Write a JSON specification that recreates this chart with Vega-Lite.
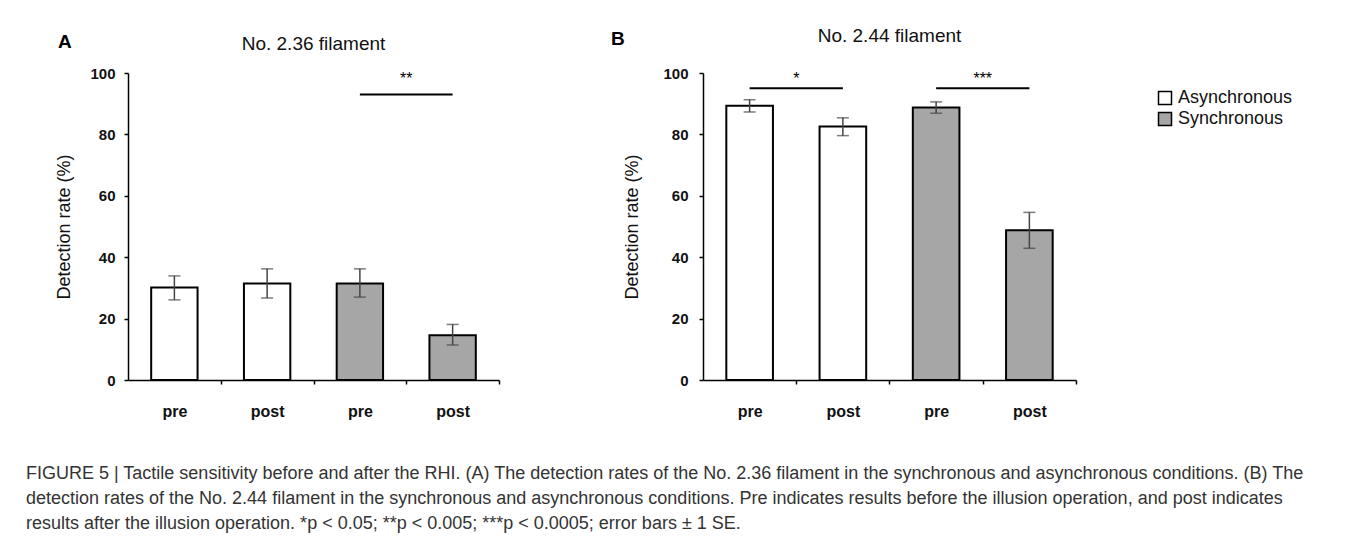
{
  "$schema": "https://vega.github.io/schema/vega-lite/v6.json",
  "padding": {"left": 25, "top": 27, "right": 0, "bottom": 0},
  "background": "white",
  "datasets": {
    "barsA": [
      {"cond": "Async pre", "group": "Asynchronous", "rate": 30.1, "lo": 26.1, "hi": 33.9},
      {"cond": "Async post", "group": "Asynchronous", "rate": 31.4, "lo": 26.7, "hi": 36.2},
      {"cond": "Sync pre", "group": "Synchronous", "rate": 31.4, "lo": 27.0, "hi": 36.2},
      {"cond": "Sync post", "group": "Synchronous", "rate": 14.6, "lo": 11.4, "hi": 18.1}
    ],
    "barsB": [
      {"cond": "Async pre", "group": "Asynchronous", "rate": 89.3, "lo": 87.3, "hi": 91.3},
      {"cond": "Async post", "group": "Asynchronous", "rate": 82.6, "lo": 79.6, "hi": 85.4},
      {"cond": "Sync pre", "group": "Synchronous", "rate": 88.8, "lo": 86.9, "hi": 90.6},
      {"cond": "Sync post", "group": "Synchronous", "rate": 48.8, "lo": 42.9, "hi": 54.6}
    ],
    "sigA": [
      {"from": "Sync pre", "to": "Sync post", "y": 93, "ystar": 98, "label": "**"}
    ],
    "sigB": [
      {"from": "Async pre", "to": "Async post", "y": 95, "ystar": 98, "label": "*"},
      {"from": "Sync pre", "to": "Sync post", "y": 95, "ystar": 98, "label": "***"}
    ],
    "headA": [{"head": "No. 2.36 filament"}],
    "headB": [{"head": "No. 2.44 filament"}]
  },
  "config": {
    "font": "Liberation Sans",
    "view": {"stroke": null},
    "axis": {
      "grid": false,
      "domainColor": "#000",
      "domainWidth": 1.5,
      "tickColor": "#000",
      "tickWidth": 1.5,
      "tickSize": 4,
      "labelColor": "#111",
      "titleColor": "#111"
    },
    "axisY": {"labelOverlap": false, "tickCount": 10, "labelBound": false},
    "legend": {
      "orient": "right",
      "offset": 63,
      "padding": 16,
      "symbolType": "square",
      "symbolSize": 169,
      "symbolStrokeColor": "#000",
      "symbolStrokeWidth": 1.5,
      "labelFontSize": 18,
      "labelColor": "#111",
      "rowPadding": 1
    }
  },
  "title": {
    "text": [
      "FIGURE 5 | Tactile sensitivity before and after the RHI. (A) The detection rates of the No. 2.36 filament in the synchronous and asynchronous conditions. (B) The",
      "detection rates of the No. 2.44 filament in the synchronous and asynchronous conditions. Pre indicates results before the illusion operation, and post indicates",
      "results after the illusion operation. *p < 0.05; **p < 0.005; ***p < 0.0005; error bars ± 1 SE."
    ],
    "orient": "bottom",
    "anchor": "start",
    "fontSize": 18,
    "fontWeight": "normal",
    "color": "#333",
    "lineHeight": 25,
    "offset": 46,
    "dx": -30
  },
  "spacing": 110,
  "hconcat": [
    {
      "width": 371,
      "height": 307,
      "title": {"text": "A", "anchor": "start", "fontSize": 19, "fontWeight": "bold", "color": "#000", "offset": -17, "dx": 2},
      "encoding": {
        "y": {"type": "quantitative", "scale": {"domain": [0, 100], "nice": false},
              "axis": {"title": "Detection rate (%)", "titleFontSize": 18, "titleFontWeight": "normal", "titlePadding": 16, "tickCount": 10, "labelOverlap": false,
                       "values": [0, 10, 20, 30, 40, 50, 60, 70, 80, 90, 100], "labelFontSize": 15, "labelFontWeight": "bold", "labelPadding": 9}}
      },
      "layer": [
        {
          "data": {"name": "barsA"},
          "mark": {"type": "bar", "stroke": "#000", "strokeWidth": 2, "width": {"band": 0.5}},
          "encoding": {
            "x": {"field": "cond", "type": "nominal",
                  "scale": {"domain": ["Async pre", "Async post", "Sync pre", "Sync post"], "paddingInner": 0, "paddingOuter": 0},
                  "axis": {"title": null, "labelAngle": 0, "labelFontSize": 16, "labelFontWeight": "bold", "labelPadding": 19, "tickOffset": 46.5, "labelOffset": -46.5,
                           "labelExpr": "indexof(datum.value, 'pre') >= 0 ? 'pre' : 'post'"}},
            "y": {"field": "rate"},
            "fill": {"field": "group", "type": "nominal", "scale": {"domain": ["Asynchronous", "Synchronous"], "range": ["#ffffff", "#a6a6a6"]}, "legend": {"title": null}}
          }
        },
        {
          "data": {"name": "barsA"},
          "mark": {"type": "rule", "color": "#444", "strokeWidth": 1.5},
          "encoding": {
            "x": {"field": "cond", "type": "nominal"},
            "y": {"field": "lo"},
            "y2": {"field": "hi"}
          }
        },
        {
          "data": {"name": "barsA"},
          "mark": {"type": "tick", "color": "#444", "thickness": 1.5, "size": 12},
          "encoding": {
            "x": {"field": "cond", "type": "nominal"},
            "y": {"field": "lo"}
          }
        },
        {
          "data": {"name": "barsA"},
          "mark": {"type": "tick", "color": "#444", "thickness": 1.5, "size": 12},
          "encoding": {
            "x": {"field": "cond", "type": "nominal"},
            "y": {"field": "hi"}
          }
        },
        {
          "data": {"name": "sigA"},
          "mark": {"type": "rule", "color": "#000", "strokeWidth": 2},
          "encoding": {
            "x": {"field": "from", "type": "nominal", "bandPosition": 0.5},
            "x2": {"field": "to"},
            "y": {"field": "y"}
          }
        },
        {
          "data": {"name": "sigA"},
          "mark": {"type": "text", "fontSize": 16, "baseline": "middle", "align": "center", "color": "#000"},
          "encoding": {
            "x": {"field": "from", "type": "nominal", "bandPosition": 1},
            "y": {"field": "ystar"},
            "text": {"field": "label"}
          }
        },
        {
          "data": {"name": "headA"},
          "mark": {"type": "text", "fontSize": 19, "baseline": "middle", "align": "center", "color": "#111"},
          "encoding": {
            "x": {"datum": "Async post", "bandPosition": 1},
            "y": {"datum": 109.5},
            "text": {"field": "head"}
          }
        }
      ]
    },
    {
      "width": 373,
      "height": 307,
      "title": {"text": "B", "anchor": "start", "fontSize": 19, "fontWeight": "bold", "color": "#000", "offset": -22, "dx": -13},
      "encoding": {
        "y": {"type": "quantitative", "scale": {"domain": [0, 100], "nice": false},
              "axis": {"title": "Detection rate (%)", "titleFontSize": 18, "titleFontWeight": "normal", "titlePadding": 21, "tickCount": 10, "labelOverlap": false,
                       "values": [0, 10, 20, 30, 40, 50, 60, 70, 80, 90, 100], "labelFontSize": 15, "labelFontWeight": "bold", "labelPadding": 11}}
      },
      "layer": [
        {
          "data": {"name": "barsB"},
          "mark": {"type": "bar", "stroke": "#000", "strokeWidth": 2, "width": {"band": 0.5}},
          "encoding": {
            "x": {"field": "cond", "type": "nominal",
                  "scale": {"domain": ["Async pre", "Async post", "Sync pre", "Sync post"], "paddingInner": 0, "paddingOuter": 0},
                  "axis": {"title": null, "labelAngle": 0, "labelFontSize": 16, "labelFontWeight": "bold", "labelPadding": 19, "tickOffset": 46.5, "labelOffset": -46.5,
                           "labelExpr": "indexof(datum.value, 'pre') >= 0 ? 'pre' : 'post'"}},
            "y": {"field": "rate"},
            "fill": {"field": "group", "type": "nominal", "scale": {"domain": ["Asynchronous", "Synchronous"], "range": ["#ffffff", "#a6a6a6"]}, "legend": {"title": null}}
          }
        },
        {
          "data": {"name": "barsB"},
          "mark": {"type": "rule", "color": "#444", "strokeWidth": 1.5},
          "encoding": {
            "x": {"field": "cond", "type": "nominal"},
            "y": {"field": "lo"},
            "y2": {"field": "hi"}
          }
        },
        {
          "data": {"name": "barsB"},
          "mark": {"type": "tick", "color": "#444", "thickness": 1.5, "size": 12},
          "encoding": {
            "x": {"field": "cond", "type": "nominal"},
            "y": {"field": "lo"}
          }
        },
        {
          "data": {"name": "barsB"},
          "mark": {"type": "tick", "color": "#444", "thickness": 1.5, "size": 12},
          "encoding": {
            "x": {"field": "cond", "type": "nominal"},
            "y": {"field": "hi"}
          }
        },
        {
          "data": {"name": "sigB"},
          "mark": {"type": "rule", "color": "#000", "strokeWidth": 2},
          "encoding": {
            "x": {"field": "from", "type": "nominal", "bandPosition": 0.5},
            "x2": {"field": "to"},
            "y": {"field": "y"}
          }
        },
        {
          "data": {"name": "sigB"},
          "mark": {"type": "text", "fontSize": 16, "baseline": "middle", "align": "center", "color": "#000"},
          "encoding": {
            "x": {"field": "from", "type": "nominal", "bandPosition": 1},
            "y": {"field": "ystar"},
            "text": {"field": "label"}
          }
        },
        {
          "data": {"name": "headB"},
          "mark": {"type": "text", "fontSize": 19, "baseline": "middle", "align": "center", "color": "#111"},
          "encoding": {
            "x": {"datum": "Async post", "bandPosition": 1},
            "y": {"datum": 112},
            "text": {"field": "head"}
          }
        }
      ]
    }
  ]
}
